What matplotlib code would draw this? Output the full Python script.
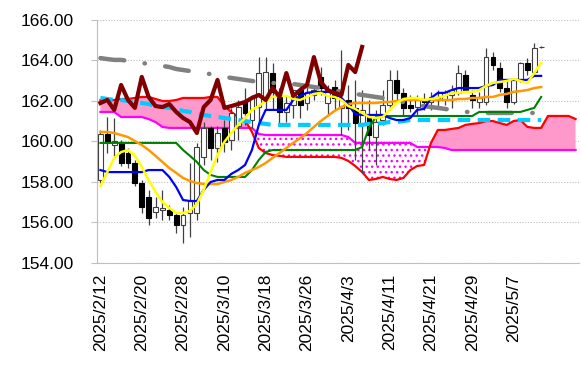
import matplotlib.pyplot as plt
import numpy as np

plt.rcParams['font.family'] = ['Liberation Sans', 'DejaVu Sans']

# --- datos ---
tick_labels = ['2025/2/12', '2025/2/20', '2025/2/28', '2025/3/10', '2025/3/18', '2025/3/26',
               '2025/4/3', '2025/4/11', '2025/4/21', '2025/4/29', '2025/5/7']

opens = [158.10, 160.37, 159.85, 159.93, 159.43, 158.94, 157.95, 157.26, 156.52, 156.62,
         156.62, 156.37, 155.88, 156.47, 156.47, 159.24, 160.67, 159.68, 160.67, 160.07,
         160.77, 161.95, 161.06, 161.70, 162.15, 163.38, 162.20, 161.46, 161.80, 162.54,
         161.90, 162.30, 163.19, 161.90, 162.69, 161.66, 162.05, 161.66, 160.91, 161.21,
         160.22, 161.06, 161.80, 163.04, 162.40, 161.80, 161.70, 162.05, 161.95, 162.20,
         162.05, 162.30, 162.40, 163.28, 162.30, 161.95, 161.95, 164.17, 163.63, 162.64,
         161.95, 163.04, 163.88, 163.43, 164.67]
highs = [160.57, 161.21, 161.15, 160.07, 159.68, 159.09, 158.10, 157.61, 157.26, 157.61,
         156.87, 156.52, 156.77, 158.94, 159.93, 160.96, 160.77, 160.77, 161.06, 161.66,
         162.05, 162.64, 162.30, 164.17, 164.17, 163.88, 162.64, 162.30, 162.30, 162.79,
         162.94, 162.79, 163.68, 162.79, 163.04, 164.52, 162.79, 163.04, 162.54, 162.05,
         161.56, 162.54, 163.53, 163.53, 162.64, 162.30, 162.30, 162.40, 162.45, 162.54,
         162.54, 162.79, 163.78, 163.53, 162.54, 162.45, 164.62, 164.42, 163.93, 163.04,
         163.14, 163.93, 164.12, 164.86, 164.72]
lows = [157.95, 159.43, 159.30, 158.79, 158.69, 157.80, 156.47, 155.88, 156.22, 156.12,
        156.12, 155.48, 154.99, 155.29, 156.12, 158.84, 159.09, 158.99, 159.48, 159.58,
        160.07, 160.82, 160.67, 160.82, 161.56, 161.56, 160.82, 160.96, 161.16, 161.16,
        161.56, 162.05, 162.30, 161.31, 161.56, 160.32, 160.57, 159.09, 158.45, 159.58,
        158.84, 160.82, 161.56, 162.05, 161.31, 161.46, 161.31, 161.56, 161.56, 161.66,
        161.80, 161.66, 162.30, 162.54, 161.66, 161.66, 161.80, 163.53, 162.45, 161.66,
        161.85, 162.94, 163.28, 163.33, 164.62]
closes = [160.37, 159.98, 160.00, 158.94, 158.94, 157.95, 156.77, 156.22, 156.77, 156.72,
          156.37, 155.88, 156.37, 157.11, 159.73, 160.67, 159.68, 160.42, 159.98, 161.41,
          161.70, 161.41, 162.20, 163.38, 163.43, 162.45, 161.46, 161.90, 162.54, 161.80,
          162.45, 162.54, 162.64, 162.54, 162.15, 162.05, 161.66, 160.91, 161.56, 160.32,
          160.96, 161.80, 163.04, 162.40, 161.66, 161.66, 162.05, 161.95, 162.20, 162.05,
          162.45, 162.54, 163.38, 162.54, 162.05, 162.15, 164.17, 163.78, 162.64, 161.95,
          163.04, 163.88, 163.53, 164.62, 164.67]

tenkan = [158.59, 158.49, 158.49, 158.49, 158.49, 158.49, 158.49, 158.59, 158.59, 158.59,
          158.25, 157.75, 157.11, 157.06, 157.06, 157.61, 158.00, 158.10, 158.10, 158.40,
          158.59, 158.84, 159.58, 160.82, 161.56, 161.56, 161.56, 161.56, 162.05, 162.25,
          162.40, 162.45, 162.45, 162.45, 162.40, 162.15, 161.80, 161.36, 161.31, 161.31,
          161.31, 161.31, 161.16, 161.06, 161.06, 161.16, 161.56, 161.61, 162.15, 162.40,
          162.40, 162.54, 162.64, 162.64, 162.64, 162.64, 162.74, 162.79, 163.04, 163.04,
          163.04, 163.04, 163.04, 163.24, 163.24]
kijun = [159.93] * 12 + [159.58, 159.29, 158.99, 158.59, 158.35, 158.25, 158.25, 158.25,
         158.25, 158.25, 158.59, 159.09, 159.48] + [159.58] * 13 + [159.73, 160.67, 161.21] \
        + [161.26] * 14 + [161.46] * 7 + [161.56, 161.66, 162.20]
ma5 = [157.80, 158.49, 159.19, 159.48, 159.58, 159.29, 158.74, 158.10, 157.51, 157.01,
       156.72, 156.47, 156.47, 156.57, 156.91, 157.61, 158.49, 159.33, 159.98, 160.42,
       160.82, 161.16, 161.56, 161.75, 162.00, 162.20, 162.25, 162.25, 162.10, 162.05,
       162.20, 162.35, 162.40, 162.25, 162.20, 162.05, 161.75, 161.61, 161.41, 161.21,
       161.16, 161.21, 161.56, 161.90, 162.10, 162.15, 162.15, 162.05, 162.10, 162.15,
       162.25, 162.40, 162.40, 162.45, 162.45, 162.54, 162.74, 162.89, 162.94, 162.99,
       163.09, 162.99, 162.89, 163.38, 163.88]
ma25 = [160.47, 160.47, 160.42, 160.32, 160.22, 160.02, 159.83, 159.58, 159.29, 158.99,
        158.69, 158.45, 158.20, 158.05, 157.95, 157.90, 157.90, 157.90, 158.00, 158.10,
        158.25, 158.45, 158.59, 158.74, 158.94, 159.19, 159.43, 159.68, 159.93, 160.17,
        160.42, 160.72, 161.01, 161.26, 161.51, 161.70, 161.85, 161.90, 161.90, 161.90,
        161.90, 161.95, 161.95, 162.00, 162.05, 162.05, 162.05, 162.05, 162.05, 162.05,
        162.05, 162.05, 162.10, 162.10, 162.15, 162.15, 162.20, 162.20, 162.30, 162.35,
        162.45, 162.49, 162.54, 162.64, 162.69]
ma75 = [162.15, 162.10, 162.05, 162.05, 162.00, 161.95, 161.90, 161.85, 161.75, 161.70,
        161.66, 161.61, 161.51, 161.46, 161.36, 161.31, 161.26, 161.21, 161.16, 161.11,
        161.06, 161.01, 160.96, 160.91, 160.87] + [160.82] * 14 + [160.87, 160.87, 160.91,
        160.96, 160.96, 161.01] + [161.06] * 20
ma200 = [164.12, 164.07, 164.03, 164.03, 163.98, 163.93, 163.88, 163.83, 163.78, 163.73,
         163.68, 163.58, 163.53, 163.48, 163.43, 163.38, 163.33, 163.24, 163.19, 163.14,
         163.09, 163.04, 162.99, 162.94, 162.94, 162.89, 162.89, 162.84, 162.84, 162.79,
         162.74, 162.69, 162.64, 162.59, 162.54, 162.45, 162.40, 162.35, 162.30, 162.25,
         162.20, 162.15, 162.10, 162.00, 161.95, 161.85, 161.80, 161.75, 161.70, 161.66,
         161.61, 161.56, 161.51, 161.46, 161.46] + [161.41] * 9
chikou = [161.90, 162.05, 161.56, 162.79, 162.05, 161.66, 163.19, 162.20, 161.75, 161.70,
          161.85, 161.46, 161.16, 160.96, 160.42, 161.70, 162.05, 163.04, 161.66, 161.75,
          161.85, 161.95, 162.15, 162.30, 162.05, 162.64, 162.20, 163.38, 162.25, 162.54,
          162.79, 164.17, 162.94, 162.54, 162.40, 162.30, 163.78, 163.43, 164.67]
senkou_a = [162.05, 162.00, 162.05, 162.10, 162.10, 162.15, 162.20, 162.20, 162.10, 162.00,
            162.00, 162.05, 162.15, 162.15, 162.15, 162.15, 162.20, 162.20, 161.75, 161.46,
            161.21, 161.06, 160.47, 159.68, 159.43, 159.33, 159.29, 159.24, 159.24, 159.24,
            159.24, 159.24, 159.24, 159.24, 159.24, 159.19, 159.04, 158.79, 158.49, 158.10,
            158.15, 158.25, 158.15, 158.10, 158.20, 158.59, 158.79, 158.84, 159.93, 160.57,
            160.57, 160.62, 160.67, 160.82, 160.87, 160.91, 161.01, 161.01, 160.91, 160.82,
            161.01, 161.06, 160.72, 160.67, 160.67, 161.26, 161.26, 161.26, 161.26, 161.11]
senkou_b = [161.46] * 3 + [161.21] * 4 + [161.11, 160.96, 160.72] + [160.67] * 13 \
           + [160.37] + [160.32] * 12 + [160.22] + [159.93] * 9 + [159.73] * 4 \
           + [159.68] + [159.58] * 19

# --- figura ---
fig = plt.figure(figsize=(5.81, 3.76), dpi=100)
ax = fig.add_axes([97 / 581, 1 - 263 / 376, 482 / 581, 243 / 376])

xc = np.arange(len(senkou_a))
sa = np.array(senkou_a)
sb = np.array(senkou_b)
ax.fill_between(xc, sa, sb, where=sa >= sb, interpolate=True,
                facecolor='#ff99cc', linewidth=0, zorder=1)
ax.fill_between(xc, sa, sb, where=sa < sb, interpolate=True,
                facecolor='white', edgecolor='#ff00ff', hatch='...', linewidth=0, zorder=1)
ax.plot(xc, senkou_b, color='#ff00ff', lw=1.6, zorder=2)
ax.plot(xc, senkou_a, color='#ff0000', lw=1.6, zorder=2)

# velas
xk = np.arange(len(closes))
o = np.array(opens)
c = np.array(closes)
up = c >= o
ax.vlines(xk, lows, highs, color='#404040', lw=0.9, zorder=3)
ax.bar(xk[up], (c - o)[up], bottom=o[up], width=0.7, color='white',
       edgecolor='#404040', linewidth=0.8, zorder=3)
ax.bar(xk[~up], (o - c)[~up], bottom=c[~up], width=0.7, color='black',
       edgecolor='black', linewidth=0.8, zorder=3)

ax.plot(np.arange(len(ma200)), ma200, color='#808080', lw=3.2,
        dashes=(5.4, 4.6, 0.1, 4.6), dash_capstyle='round', zorder=4)
ax.plot(np.arange(len(ma75)), ma75, color='#00ccff', lw=3.0,
        dashes=(3, 1.8), zorder=4)
ax.plot(xk, kijun, color='#008000', lw=1.5, zorder=5)
ax.plot(xk, ma25, color='#ff9900', lw=1.8, zorder=5)
ax.plot(xk, tenkan, color='#0000ff', lw=1.6, zorder=5)
ax.plot(xk, ma5, color='#ffff00', lw=1.8, zorder=6)
ax.plot(np.arange(len(chikou)), chikou, color='#800000', lw=3.0, zorder=7)

# ejes
ax.set_xlim(-0.5, len(senkou_a) - 0.5)
ax.set_ylim(154, 166)
ax.set_yticks(np.arange(154, 167, 2))
ax.set_yticklabels([f'{v:.2f}' for v in np.arange(154, 167, 2)])
ax.set_xticks(np.arange(0, 61, 6))
ax.set_xticklabels(tick_labels, rotation=90, va='top', ha='center')
ax.grid(axis='y', color='#bfbfbf', lw=0.8, linestyle=(0, (1, 1.5)))
ax.set_axisbelow(True)
for s in ['top', 'right']:
    ax.spines[s].set_visible(False)
for s in ['left', 'bottom']:
    ax.spines[s].set_color('#bfbfbf')
ax.tick_params(axis='y', length=4, color='#bfbfbf', labelsize=12.5, pad=13)
ax.tick_params(axis='x', length=0, labelsize=12.5, pad=8)

fig.savefig('out.png', dpi=100)
